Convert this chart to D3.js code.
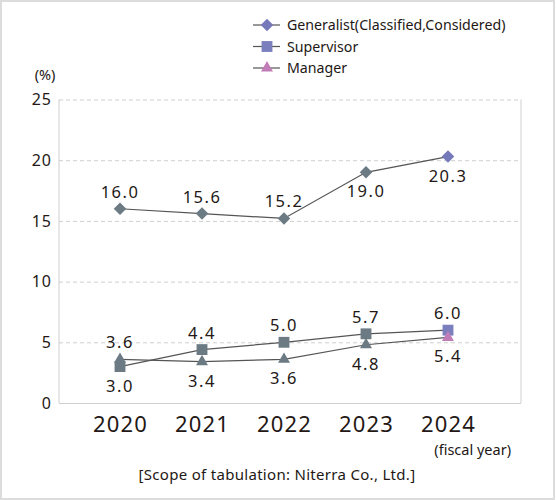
<!DOCTYPE html>
<html>
<head>
<meta charset="utf-8">
<script src="https://cdn.jsdelivr.net/npm/d3@7"></script>
<style>
  html, body { margin: 0; padding: 0; background: #fff; }
  svg { display: block; font-family: "Noto Sans", sans-serif; }
</style>
</head>
<body>
<div id="chart"></div>
<script>
// values (labels printed next to each point)
const years = ['2020', '2021', '2022', '2023', '2024']
const generalist = [16.0, 15.6, 15.2, 19.0, 20.3]
const supervisor = [3.0, 4.4, 5.0, 5.7, 6.0]
const manager = [3.6, 3.4, 3.6, 4.8, 5.4]
const yTicks = [0, 5, 10, 15, 20, 25]
const seriesNames = ['Generalist(Classified,Considered)', 'Supervisor', 'Manager']

const width = 556
const height = 500
const plot = { left: 59, right: 521, top: 99.5, bottom: 403 }
const ink = '#231815'

const grey = '#6c7b83'
const series = [
  { name: seriesNames[0], values: generalist, symbol: d3.symbolSquare, size: 78, rot: 45, last: '#7579ba',
    side: [-1, -1, -1, 1, 1] },
  { name: seriesNames[1], values: supervisor, symbol: d3.symbolSquare, size: 118, rot: 0, last: '#7b7fbd',
    side: [1, -1, -1, -1, -1] },
  { name: seriesNames[2], values: manager, symbol: d3.symbolTriangle, size: 62, rot: 0, last: '#c07db8',
    side: [-1, 1, 1, 1, 1] }
]

const svg = d3.select('#chart').append('svg')
  .attr('width', width)
  .attr('height', height)

// outer frame
svg.append('rect')
  .attr('x', 1).attr('y', 1)
  .attr('width', width - 3).attr('height', height - 2)
  .attr('fill', '#fff')
  .attr('stroke', '#dcdcdc')
  .attr('stroke-width', 2)

const x = d3.scalePoint()
  .domain(years)
  .range([120, 448])

const y = d3.scaleLinear()
  .domain([0, 25])
  .range([plot.bottom, plot.top])

// y axis with dashed grid
const gy = svg.append('g')
  .attr('transform', `translate(${plot.left},0)`)
  .call(d3.axisLeft(y).tickValues(yTicks).tickSize(-(plot.right - plot.left)).tickPadding(7))
gy.select('.domain').remove()
gy.selectAll('.tick line')
  .attr('stroke', '#cfcfcf')
  .attr('stroke-dasharray', d => d === 0 ? null : '4,3')
gy.selectAll('.tick text')
  .attr('fill', ink)
  .style('font-size', '16px')
  .style('letter-spacing', '1px')
  .style('font-family', '"Noto Sans", sans-serif')

// plot frame sides
svg.append('g')
  .selectAll('line')
  .data([plot.left, plot.right])
  .join('line')
  .attr('x1', d => d).attr('x2', d => d)
  .attr('y1', plot.top).attr('y2', plot.bottom)
  .attr('stroke', '#cfcfcf')

// x axis labels
const gx = svg.append('g')
  .attr('transform', `translate(0,${plot.bottom})`)
  .call(d3.axisBottom(x).tickSize(0).tickPadding(13))
gx.select('.domain').remove()
gx.selectAll('.tick text')
  .attr('fill', ink)
  .style('font-size', '22px')
  .style('letter-spacing', '1.2px')
  .style('font-family', '"Noto Sans", sans-serif')

svg.append('text')
  .attr('x', 45).attr('y', 80)
  .attr('text-anchor', 'middle')
  .attr('fill', ink)
  .style('font-size', '14.5px')
  .text('(%)')

svg.append('text')
  .attr('x', 511).attr('y', 455)
  .attr('text-anchor', 'end')
  .attr('fill', ink)
  .style('font-size', '14.5px')
  .text('(fiscal year)')

svg.append('text')
  .attr('x', 277).attr('y', 480)
  .attr('text-anchor', 'middle')
  .attr('fill', ink)
  .style('font-size', '15px')
  .style('letter-spacing', '0.3px')
  .text('[Scope of tabulation: Niterra Co., Ltd.]')

// lines
const line = d3.line()
  .x((d, i) => x(years[i]))
  .y(d => y(d))

svg.append('g')
  .selectAll('path')
  .data(series)
  .join('path')
  .attr('d', s => line(s.values))
  .attr('fill', 'none')
  .attr('stroke', '#555')
  .attr('stroke-width', 1.2)

// markers
series.forEach(s => {
  const sym = d3.symbol().type(s.symbol).size(s.size)
  svg.append('g')
    .selectAll('path')
    .data(s.values)
    .join('path')
    .attr('transform', (d, i) => `translate(${x(years[i])},${y(d)}) rotate(${s.rot})`)
    .attr('d', sym)
    .attr('fill', (d, i) => i === years.length - 1 ? s.last : grey)
})

// value labels
series.forEach(s => {
  svg.append('g')
    .selectAll('text')
    .data(s.values)
    .join('text')
    .attr('x', (d, i) => x(years[i]))
    .attr('y', (d, i) => y(d) + (s.side[i] < 0 ? -11 : 25))
    .attr('text-anchor', 'middle')
    .attr('fill', ink)
    .style('font-size', '16.5px')
    .style('letter-spacing', '1.5px')
    .text(d => d3.format('.1f')(d))
})

// legend
const legend = svg.append('g')
  .selectAll('g')
  .data(series)
  .join('g')
  .attr('transform', (d, i) => `translate(267,${25 + i * 21.5})`)

legend.append('line')
  .attr('x1', -14).attr('x2', 13)
  .attr('stroke', '#555')
  .attr('stroke-width', 1.2)
legend.append('path')
  .attr('d', s => d3.symbol().type(s.symbol).size(s.size)())
  .attr('transform', s => `rotate(${s.rot})`)
  .attr('fill', s => s.last)
legend.append('text')
  .attr('x', 20).attr('y', 5)
  .attr('fill', ink)
  .style('font-size', '14.2px')
  .text(s => s.name)
</script>
</body>
</html>
